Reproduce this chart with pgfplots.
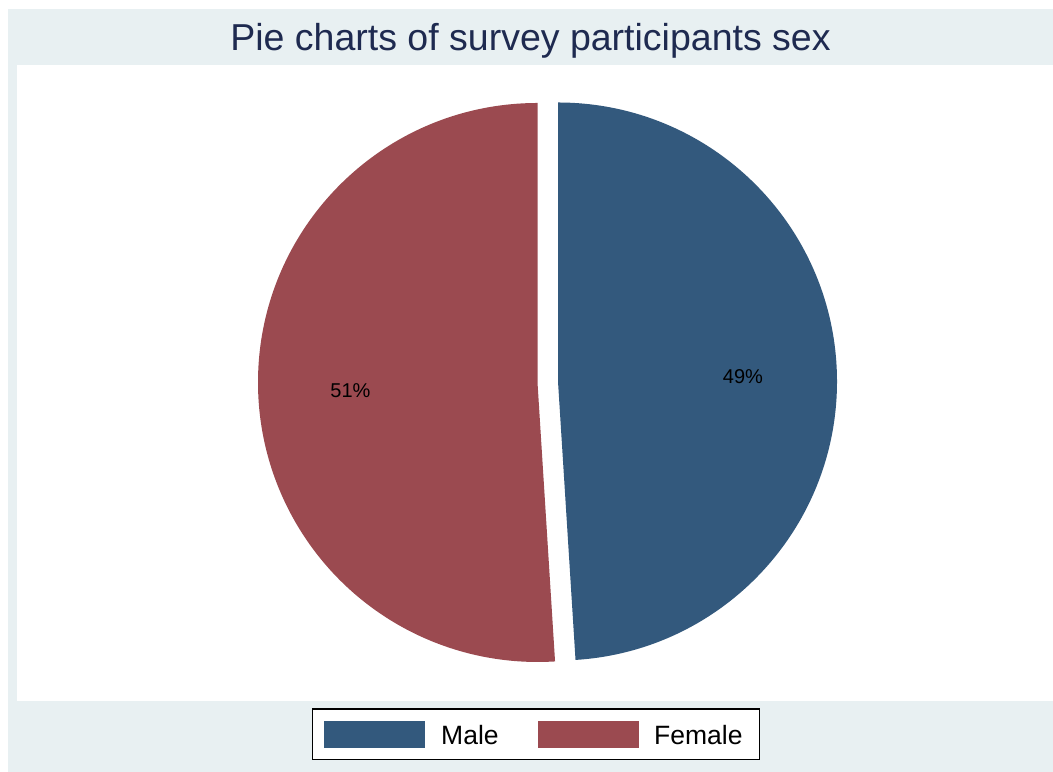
\documentclass[border=0pt]{standalone}
\usepackage{pgfplots}
\pgfplotsset{compat=1.18}
\usepackage{pgfplotstable}
\usepackage{fontspec}
\setmainfont{Liberation Sans}
\definecolor{bgc}{RGB}{232,240,242}
\definecolor{malec}{RGB}{51,89,125}
\definecolor{femalec}{RGB}{155,74,80}
\definecolor{titlec}{RGB}{30,42,80}
\pgfplotstableread{
label value
Male 49
Female 51
}\piedata
\begin{document}
\begin{tikzpicture}
\pgfplotstablegetelem{0}{value}\of\piedata \let\vmale\pgfplotsretval
\pgfplotstablegetelem{1}{value}\of\piedata \let\vfemale\pgfplotsretval
\pgfmathsetmacro{\angmale}{90-3.6*\vmale}
\pgfmathsetmacro{\angfemale}{90+3.6*\vfemale}
\begin{axis}[
  x=1bp, y=1bp,
  xmin=0, xmax=1053, ymin=0, ymax=772,
  hide axis, clip=false,
]
% full canvas
\path[use as bounding box] (axis cs:0,0) rectangle (axis cs:1053,772);
% backgrounds
\fill[bgc] (axis cs:8,0) rectangle (axis cs:1053,763);
\fill[white] (axis cs:17,71) rectangle (axis cs:1053,707);
% title
\node[anchor=base, text=titlec, font=\fontsize{37.5bp}{45bp}\selectfont] at (axis cs:530.5,721) {Pie charts of survey participants sex};
% male slice
\fill[malec] (axis cs:558,390.5) -- ++(90:279bp) arc[start angle=90, end angle=\angmale, radius=279bp] -- cycle;
% female slice (exploded)
\fill[femalec] (axis cs:537.5,389.5) -- ++(90:279.5bp) arc[start angle=90, end angle=\angfemale, radius=279.5bp] -- cycle;
% labels
\node[anchor=base, font=\fontsize{20bp}{24bp}\selectfont] at (axis cs:743,388) {\vmale\%};
\node[anchor=base, font=\fontsize{20bp}{24bp}\selectfont] at (axis cs:350.5,374) {\vfemale\%};
% legend
\draw[black, fill=white, line width=1.2bp] (axis cs:312.5,63) rectangle (axis cs:759.5,12.5);
\fill[malec] (axis cs:324,51) rectangle (axis cs:425,24);
\fill[femalec] (axis cs:538,51) rectangle (axis cs:639,24);
\node[anchor=base west, inner sep=0pt, font=\fontsize{26.5bp}{30bp}\selectfont] at (axis cs:441,27) {Male};
\node[anchor=base west, inner sep=0pt, font=\fontsize{26.5bp}{30bp}\selectfont] at (axis cs:654,27) {Female};
\end{axis}
\end{tikzpicture}
\end{document}
